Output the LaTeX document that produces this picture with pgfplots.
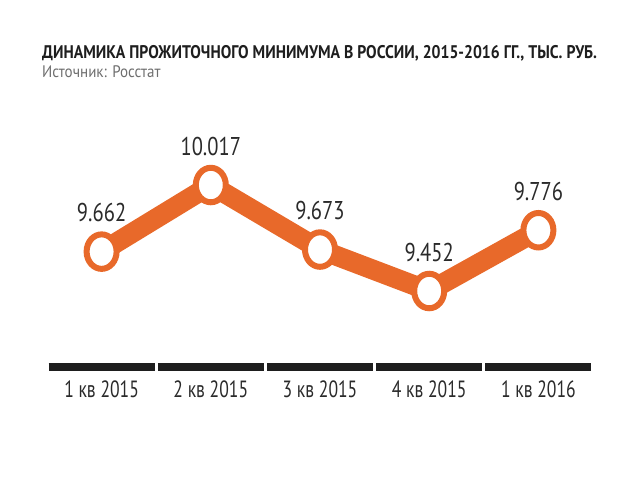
\documentclass[border=0pt]{standalone}
\usepackage{pgfplots}
\pgfplotsset{compat=1.18}
\usepackage{fontspec}
\setmainfont{PT Sans}
\newfontfamily\titlefont[FakeStretch=0.86]{PT Sans}
\newfontfamily\subfont[FakeStretch=0.9]{PT Sans}
\newfontfamily\tickfont[FakeStretch=0.75]{PT Sans}
\newfontfamily\valfont[FakeStretch=0.8]{PT Sans}
\definecolor{orng}{HTML}{E8692A}
\definecolor{barc}{HTML}{1E1E1E}
\definecolor{subg}{HTML}{6E6E6E}
\definecolor{lblc}{HTML}{2A2A2A}
\begin{document}
\begin{tikzpicture}[x=1pt,y=1pt]
\path[use as bounding box] (0,0) rectangle (640,480);
\node[anchor=base west, inner sep=0, font=\titlefont\bfseries\fontsize{18.3}{18.3}\selectfont, text=barc] at (42,421.7) {ДИНАМИКА ПРОЖИТОЧНОГО МИНИМУМА В РОССИИ, 2015-2016 ГГ., ТЫС. РУБ.};
\node[anchor=base west, inner sep=0, font=\subfont\fontsize{16.7}{16.7}\selectfont, text=subg] at (42,402.3) {Источник: Росстат};
\begin{axis}[
  at={(47pt,104.2pt)}, anchor=south west,
  scale only axis, width=546pt, height=225.1pt,
  xmin=-0.5, xmax=4.5, ymin=9.0, ymax=10.2,
  axis line style={draw=none},
  major tick length=0pt,
  ytick=\empty,
  xtick={0,1,2,3,4},
  xticklabels={1 кв 2015,2 кв 2015,3 кв 2015,4 кв 2015,1 кв 2016},
  xticklabel style={font=\tickfont\fontsize{23.5}{23.5}\selectfont, text=lblc, anchor=base, yshift=-22pt},
  clip=false,
]
\draw[line width=8pt, barc] (axis cs:-0.485,9.047) -- (axis cs:0.485,9.047);
\draw[line width=8pt, barc] (axis cs:0.515,9.047) -- (axis cs:1.485,9.047);
\draw[line width=8pt, barc] (axis cs:1.515,9.047) -- (axis cs:2.485,9.047);
\draw[line width=8pt, barc] (axis cs:2.515,9.047) -- (axis cs:3.485,9.047);
\draw[line width=8pt, barc] (axis cs:3.515,9.047) -- (axis cs:4.485,9.047);
\addplot[orng, line width=20pt, mark=*, mark size=15pt,
  mark options={fill=white, draw=orng, line width=6pt, yscale=1.15},
  nodes near coords, point meta=explicit symbolic,
  every node near coord/.append style={anchor=base, yshift=30pt,
    font=\valfont\fontsize{25.7}{25.7}\selectfont, text=lblc}]
coordinates {(0,9.662)[9.662] (1,10.017)[10.017] (2,9.673)[9.673] (3,9.452)[9.452] (4,9.776)[9.776]};
\end{axis}
\end{tikzpicture}
\end{document}
